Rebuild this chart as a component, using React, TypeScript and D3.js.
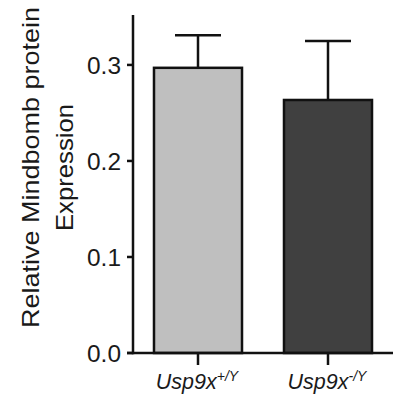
import React from "react";
import * as d3 from "d3";

const categories = ["+/Y", "-/Y"];
const means = [0.297, 0.2635];
const errors = [0.034, 0.0615];
const fills = ["#bfbfbf", "#404040"];
const yTicks = [0.0, 0.1, 0.2, 0.3];

const W = 395;
const H = 409;
const FONT = "'Liberation Sans', Arial, Helvetica, sans-serif";

export default function App() {
  const y = d3.scaleLinear().domain([0, 0.352]).range([353, 15]);
  const x = d3
    .scaleBand<string>()
    .domain(categories)
    .range([133, 393])
    .paddingInner(0.323)
    .paddingOuter(0.1615);
  const bw = x.bandwidth();
  const capHalf = 23;
  return (
    <svg
      width={W}
      height={H}
      style={{ position: "absolute", left: 0, top: 0, background: "#fff" }}
      fontFamily={FONT}
    >
      {categories.map((c, i) => {
        const x0 = x(c)!;
        const cx = x0 + bw / 2;
        return (
          <g key={c}>
            <line x1={cx} x2={cx} y1={y(means[i])} y2={y(means[i] + errors[i])} stroke="#111" strokeWidth={2.5} />
            <line
              x1={cx - capHalf}
              x2={cx + capHalf}
              y1={y(means[i] + errors[i])}
              y2={y(means[i] + errors[i])}
              stroke="#111"
              strokeWidth={2.5}
            />
            <rect
              x={x0}
              y={y(means[i])}
              width={bw}
              height={y(0) - y(means[i])}
              fill={fills[i]}
              stroke="#111"
              strokeWidth={2.5}
            />
          </g>
        );
      })}
      <line x1={133} x2={133} y1={y(0.352)} y2={y(0) + 1.25} stroke="#111" strokeWidth={2.5} />
      {yTicks.map((t) => (
        <g key={t}>
          <line x1={127} x2={133} y1={y(t)} y2={y(t)} stroke="#111" strokeWidth={2.5} />
          <text x={121} y={y(t)} dy="0.36em" textAnchor="end" fontSize={24} fill="#1a1a1a" textLength={34} lengthAdjust="spacingAndGlyphs">
            {t.toFixed(1)}
          </text>
        </g>
      ))}
      <line x1={127} x2={393} y1={y(0)} y2={y(0)} stroke="#111" strokeWidth={2.5} />
      {categories.map((c) => {
        const cx = x(c)! + bw / 2;
        return (
          <g key={c}>
            <line x1={cx} x2={cx} y1={y(0)} y2={y(0) + 12} stroke="#111" strokeWidth={2.5} />
            <text x={cx - 1} y={389} textAnchor="middle" fontSize={21.5} fontStyle="italic" fill="#1a1a1a">
              Usp9x
              <tspan fontSize={14} dy={-8.5}>
                {c}
              </tspan>
            </text>
          </g>
        );
      })}
      <g transform="translate(38.5,167.5) rotate(-90)">
        <text x={0} y={0} textAnchor="middle" fontSize={24} fill="#1a1a1a" textLength={321} lengthAdjust="spacingAndGlyphs">
          Relative Mindbomb protein
        </text>
        <text x={0} y={34} textAnchor="middle" fontSize={24} fill="#1a1a1a" textLength={127} lengthAdjust="spacingAndGlyphs">
          Expression
        </text>
      </g>
    </svg>
  );
}
